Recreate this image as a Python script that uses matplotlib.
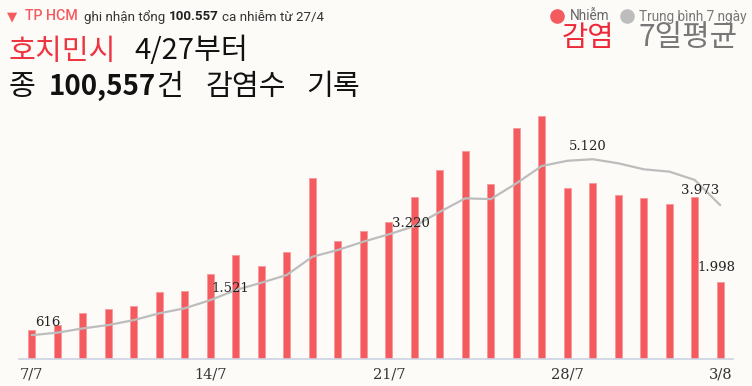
import numpy as np
import matplotlib
matplotlib.use("Agg")
import matplotlib.pyplot as plt
from matplotlib.lines import Line2D

# daily new cases, 7/7 .. 3/8
days = ['7/7', '8/7', '9/7', '10/7', '11/7', '12/7', '13/7', '14/7', '15/7', '16/7',
        '17/7', '18/7', '19/7', '20/7', '21/7', '22/7', '23/7', '24/7', '25/7', '26/7',
        '27/7', '28/7', '29/7', '30/7', '31/7', '1/8', '2/8', '3/8']
cases = [750, 880, 1195, 1285, 1370, 1740, 1765, 2195, 2680, 2395,
         2765, 4670, 3050, 3300, 3530, 4185, 4890, 5370, 4520, 5965,
         6280, 4415, 4550, 4235, 4150, 4010, 4175, 1998]
# 7-day average
avg7 = [616, 680, 790, 877, 1005, 1180, 1310, 1521, 1780, 1970,
        2170, 2640, 2815, 3030, 3220, 3430, 3800, 4150, 4130, 4535,
        4985, 5120, 5160, 5055, 4900, 4840, 4625, 3973]

tick_labels = ['7/7', '14/7', '21/7', '28/7', '3/8']
tick_pos = [days.index(t) for t in tick_labels]

RED = '#f45b5f'
GREY = '#bdbdbd'
BG = '#fcfbf8'
W, H = 752, 386

fig = plt.figure(figsize=(W / 100, H / 100), dpi=100, facecolor=BG)
ax = fig.add_axes([19 / W, (H - 359) / H, 714 / W, 271 / H])
ax.set_facecolor(BG)

x = np.arange(len(days))
ax.bar(x, cases, width=0.27, color=RED, edgecolor='#f79a9c', linewidth=0.6, zorder=2)
ax.plot(x, avg7, color=GREY, lw=1.6, zorder=3, solid_capstyle='round')

ax.set_xlim(-0.5, len(days) - 0.5)
ax.set_ylim(0, 7000)
for s in ['top', 'right', 'left']:
    ax.spines[s].set_visible(False)
ax.spines['bottom'].set_color('#cdd3e3')
ax.spines['bottom'].set_linewidth(1.2)
ax.set_yticks([])
ax.set_xticks(tick_pos)
ax.set_xticklabels(tick_labels, family='DejaVu Serif', fontsize=10.5, color='#333333')
ax.tick_params(axis='x', length=0, pad=6)

def fmt(v):
    return f"{v:,}".replace(',', '.')

lab_font = dict(family='DejaVu Serif', fontsize=9.5, color='#222222', ha='center', va='center')
# (index, dx px, dy px)
avg_labels = [(0, 16, 13), (7, 20, 12), (14, 22, 11), (21, 21, 14), (27, -20, 15)]
for i, dx, dy in avg_labels:
    ax.annotate(fmt(avg7[i]), (i, avg7[i]), xytext=(dx * 0.72, dy * 0.72),
                textcoords='offset points', zorder=4, **lab_font)
ax.annotate(fmt(cases[-1]), (27, cases[-1]), xytext=(-4 * 0.72, 14 * 0.72),
            textcoords='offset points', zorder=4, **lab_font)

renderer = fig.canvas.get_renderer()

def ftext(px, py, s, **kw):
    kw.setdefault('va', 'baseline')
    kw.setdefault('ha', 'left')
    t = fig.text(px / W, 1 - py / H, s, **kw)
    return t.get_window_extent(renderer).x1

def chain(px, py, pieces, gap):
    # pieces: list of (text, kwargs); each starts after the previous one
    for s, kw in pieces:
        px = ftext(px, py, s, **kw) + gap

# header
ftext(7, 20, '▼', family='DejaVu Sans', fontsize=9.5, color=RED)
ftext(25, 20.5, 'TP HCM', family='Roboto', fontsize=10.3, color=RED, weight='medium')
vn = dict(family='Roboto', fontsize=9.6, color='#333333')
chain(84, 20.5, [('ghi nhận tổng', vn),
                 ('100.557', dict(vn, weight='bold', color='#222222')),
                 ('ca nhiễm từ 27/4', vn)], 3.5)

KR = 'Noto Sans CJK KR'
kr = dict(family=KR, fontsize=21, color='#111111')
ftext(9, 59.5, '호치민시', **dict(kr, color='#ee3440'))
ftext(134, 59.5, '4/27부터', **kr)
ftext(9, 95, '종', **kr)
end = ftext(49, 95, '100,557', **dict(kr, fontsize=20, weight='bold'))
ftext(end, 95, '건', **kr)
ftext(206, 95, '감염수', **kr)
ftext(306, 95, '기록', **kr)

# legend
for cx, col in [(557, RED), (627, GREY)]:
    fig.add_artist(Line2D([cx / W], [1 - 16 / H], marker='o', markersize=9.5,
                          color=col, transform=fig.transFigure))
ftext(570, 20.5, 'Nhiễm', family='Roboto', fontsize=9.8, color='#666666')
ftext(639, 20.5, 'Trung bình 7 ngày', family='Roboto', fontsize=9.8, color='#777777')
ftext(562, 46.5, '감염', family=KR, fontsize=20.5, color='#ee2838')
ftext(638, 46.5, '7일평균', family=KR, fontsize=21.5, color='#777777')

fig.savefig('out.png', dpi=100, facecolor=BG)
